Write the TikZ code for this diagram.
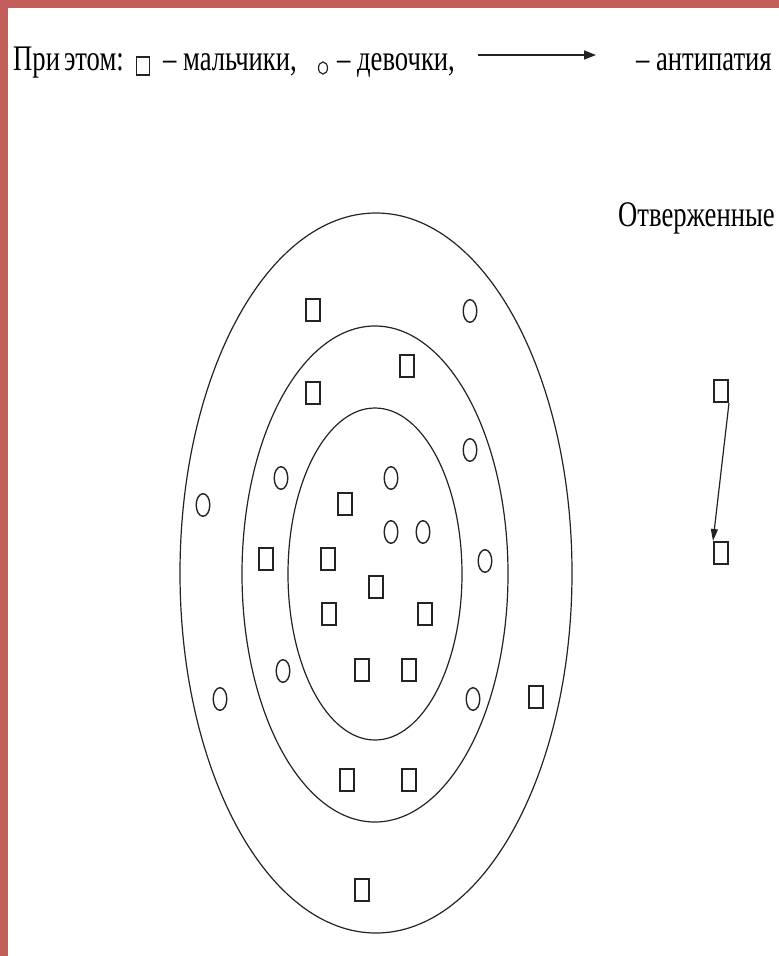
\documentclass[tikz,border=0pt]{standalone}
\usepackage{fontspec}
\setmainfont[FakeStretch=0.74]{Liberation Serif}
\usepackage{xcolor}
\usetikzlibrary{positioning,arrows.meta,shapes.geometric}
\definecolor{framered}{RGB}{196,94,90}
\definecolor{inkgray}{RGB}{35,35,35}
\tikzset{
  ring/.style={ellipse, draw=inkgray, line width=1.2pt, inner sep=0pt},
  boy/.style={rectangle, draw=inkgray, line width=1.7pt, minimum width=14.3pt, minimum height=22.3pt, inner sep=0pt},
  girl/.style={ellipse, draw=inkgray, line width=1.4pt, minimum width=13.6pt, minimum height=22.6pt, inner sep=0pt},
  lbl/.style={anchor=base west, inner sep=0pt, font=\fontsize{36}{42}\selectfont},
  arr/.style={-{Triangle[length=12pt, width=9pt]}, line width=1.6pt, draw=inkgray},
}
\begin{document}
\begin{tikzpicture}[x=1pt, y=-1pt]
  \useasboundingbox (0,0) rectangle (779,956);
  \fill[framered] (0,0) rectangle (779,8);
  \fill[framered] (0,0) rectangle (8,956);

  % legend
  \node[lbl] (thus) at (13,70) {При\hspace{4pt}этом:};
  \node[boy, line width=1.4pt, minimum width=13pt, minimum height=18pt] (keyboy) at (143,66) {};
  \node[lbl] (boys) at (163,70) {– мальчики,};
  \node[girl, line width=1.2pt, minimum width=9pt, minimum height=12pt] (keygirl) at (323,68) {};
  \node[lbl] (girls) at (337,70) {– девочки,};
  \coordinate (keyfrom) at (478,55);
  \coordinate (keyto) at (596,55);
  \draw[arr] (keyfrom) -- (keyto);
  \node[lbl] (dislike) at (636,70) {– антипатия};

  % rings
  \node[ring, minimum width=392pt, minimum height=720pt] (outer) at (376,573) {};
  \node[ring, minimum width=266pt, minimum height=496pt] (middle) at (375,574) {};
  \node[ring, minimum width=174pt, minimum height=332pt] (inner) at (375,574) {};

  % boys and girls
  \foreach \px/\py [count=\i] in {313/310, 407/366, 313/393, 345/504, 266/559,
      328/559, 376/587, 329/614, 425/614, 362/670, 409/670, 536/697,
      347/780, 409/780, 362/890}
    \node[boy] (boy\i) at (\px,\py) {};
  \foreach \px/\py [count=\i] in {470/311, 470/450, 281/478, 391/478, 203/505,
      391/532, 423/532, 485/561, 283/671, 220/699, 473/699}
    \node[girl] (girl\i) at (\px,\py) {};

  % rejected
  \node[lbl] (rejected) at (618,226) {Отверженные};
  \node[boy] (rejA) at (721,391) {};
  \node[boy] (rejB) at (721,553) {};
  \draw[arr, -{Triangle[length=12pt, width=7pt]}, line width=1.2pt] (rejA.south east) -- (rejB.north west);
\end{tikzpicture}
\end{document}
